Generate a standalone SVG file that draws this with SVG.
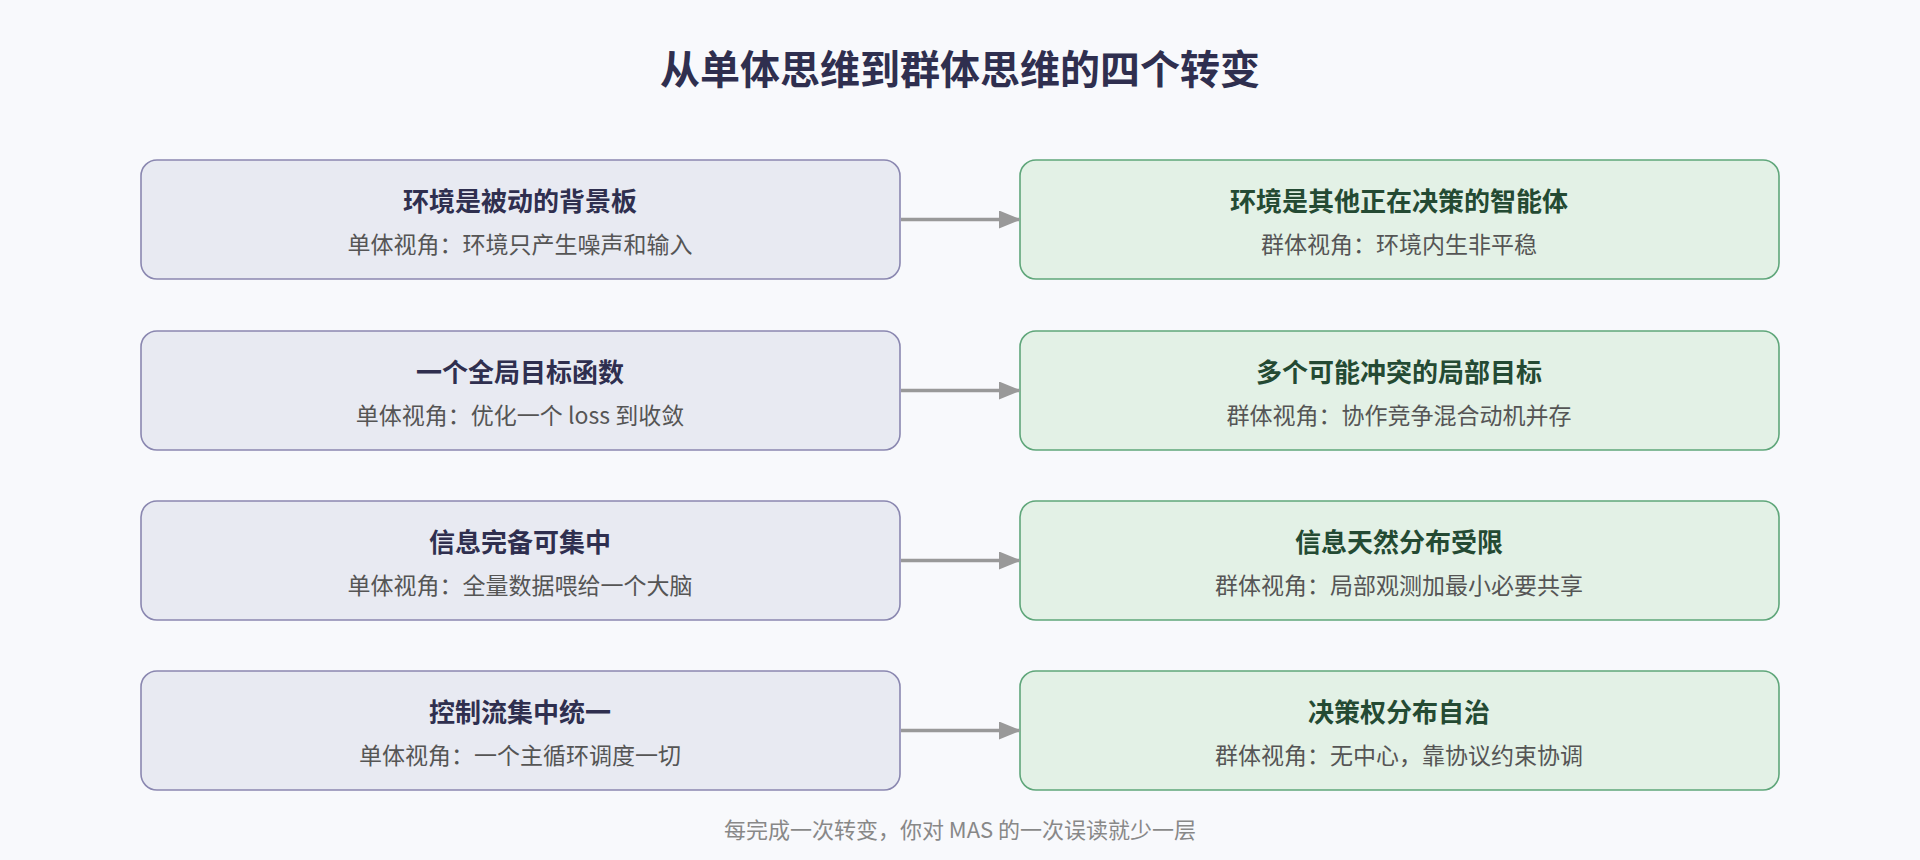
<svg xmlns="http://www.w3.org/2000/svg" width="1920" height="860" viewBox="0 0 1920 860">
<style>
text{font-family:"Noto Sans CJK SC","Noto Sans",sans-serif;text-anchor:middle}
.t{font-size:40px;font-weight:bold;fill:#2f2f4f}
.l{fill:#e8eaf2;stroke:#8a87b0;stroke-width:1.6}
.r{fill:#e3f1e6;stroke:#5fa67a;stroke-width:1.6}
.lh{font-size:26px;font-weight:bold;fill:#2f2f4f}
.rh{font-size:26px;font-weight:bold;fill:#244a33}
.s{font-size:23px;fill:#555}
.f{font-size:22px;fill:#888}
.c{stroke:#999;stroke-width:3.5;fill:none;marker-end:url(#a)}
</style>
<defs><marker id="a" markerWidth="22" markerHeight="18" refX="20" refY="9" orient="auto" markerUnits="userSpaceOnUse" viewBox="0 0 22 18"><path d="M0,0L22,9L0,18z" fill="#999"/></marker></defs>
<rect width="1920" height="860" fill="#f8f9fc"/>
<text class="t" x="960" y="84">从单体思维到群体思维的四个转变</text>
<g id="l1"><rect class="l" x="141" y="160" width="759" height="119" rx="16"/><text class="lh" x="520" y="211">环境是被动的背景板</text><text class="s" x="520" y="253">单体视角：环境只产生噪声和输入</text></g>
<g id="r1"><rect class="r" x="1020" y="160" width="759" height="119" rx="16"/><text class="rh" x="1399" y="211">环境是其他正在决策的智能体</text><text class="s" x="1399" y="253">群体视角：环境内生非平稳</text></g>
<g id="l2"><rect class="l" x="141" y="331" width="759" height="119" rx="16"/><text class="lh" x="520" y="382">一个全局目标函数</text><text class="s" x="520" y="424">单体视角：优化一个 loss 到收敛</text></g>
<g id="r2"><rect class="r" x="1020" y="331" width="759" height="119" rx="16"/><text class="rh" x="1399" y="382">多个可能冲突的局部目标</text><text class="s" x="1399" y="424">群体视角：协作竞争混合动机并存</text></g>
<g id="l3"><rect class="l" x="141" y="501" width="759" height="119" rx="16"/><text class="lh" x="520" y="552">信息完备可集中</text><text class="s" x="520" y="594">单体视角：全量数据喂给一个大脑</text></g>
<g id="r3"><rect class="r" x="1020" y="501" width="759" height="119" rx="16"/><text class="rh" x="1399" y="552">信息天然分布受限</text><text class="s" x="1399" y="594">群体视角：局部观测加最小必要共享</text></g>
<g id="l4"><rect class="l" x="141" y="671" width="759" height="119" rx="16"/><text class="lh" x="520" y="722">控制流集中统一</text><text class="s" x="520" y="764">单体视角：一个主循环调度一切</text></g>
<g id="r4"><rect class="r" x="1020" y="671" width="759" height="119" rx="16"/><text class="rh" x="1399" y="722">决策权分布自治</text><text class="s" x="1399" y="764">群体视角：无中心，靠协议约束协调</text></g>
<g id="connectors">
<path class="c" d="M901,219.5H1019"/>
<path class="c" d="M901,390.5H1019"/>
<path class="c" d="M901,560.5H1019"/>
<path class="c" d="M901,730.5H1019"/>
</g>
<text class="f" x="960" y="838">每完成一次转变，你对 MAS 的一次误读就少一层</text>
</svg>
